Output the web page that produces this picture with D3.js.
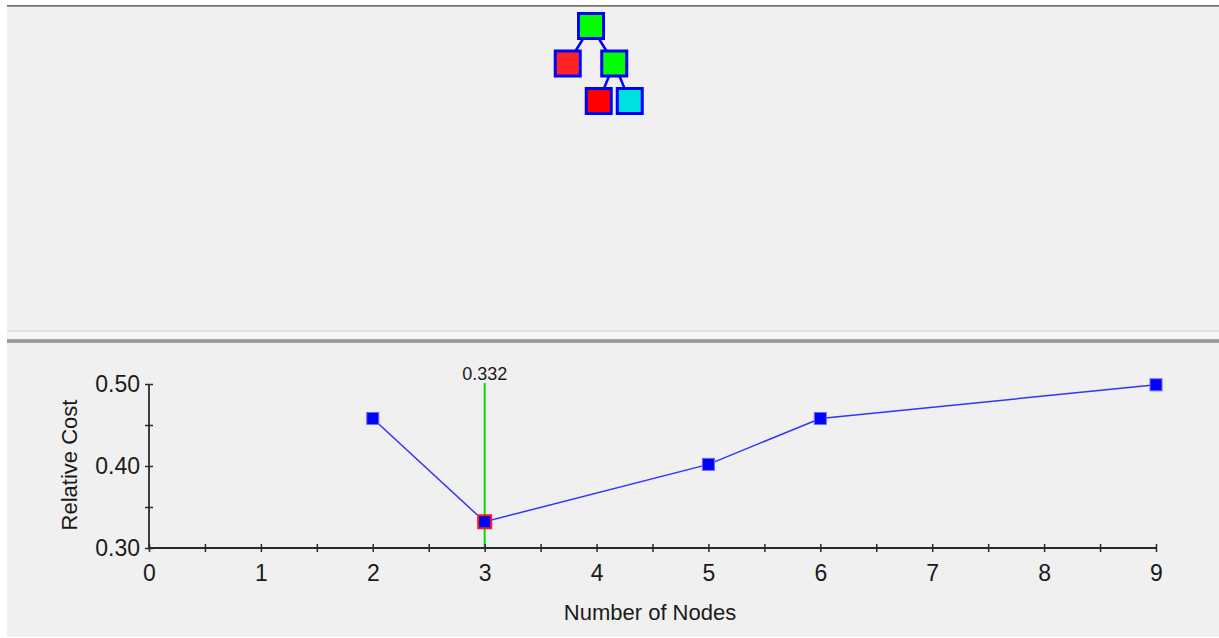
<!DOCTYPE html>
<html>
<head>
<meta charset="utf-8">
<script src="https://cdn.jsdelivr.net/npm/d3@7/dist/d3.min.js"></script>
<style>
  html, body { margin: 0; padding: 0; background: #ffffff; overflow: hidden; }
  svg { display: block; }
  text { font-family: "Liberation Sans", Arial, sans-serif; fill: #1a1a1a; }
</style>
</head>
<body>
<svg id="chart" width="1219" height="638"></svg>
<script>
// ---------- data ----------
const nodeCounts   = [2, 3, 5, 6, 9];
const relativeCost = [0.458, 0.332, 0.402, 0.458, 0.499];
const xTickValues  = [0, 1, 2, 3, 4, 5, 6, 7, 8, 9];
const xMinorTicks  = [0.5, 1.5, 2.5, 3.5, 4.5, 5.5, 6.5, 7.5, 8.5];
const yTickValues  = [0.30, 0.40, 0.50];
const yMinorTicks  = [0.35, 0.45];
const selectedNodes = 3;
const selectedLabel = "0.332";
const xTitle = "Number of Nodes";
const yTitle = "Relative Cost";

// tree shown in the upper pane
const treeIds     = ["n1", "n2", "n3", "n4", "n5"];
const treeParents = ["",   "n1", "n1", "n3", "n3"];
const treeKinds   = ["split", "leafRed", "split", "leafRed2", "leafCyan"];
const kindColors  = { split: "#00ff00", leafRed: "#ff2424", leafRed2: "#ff0000", leafCyan: "#00e0e0" };

// ---------- drawing ----------
const svg = d3.select("#chart");

// panel background
svg.append("rect").attr("x", 7).attr("y", 5).attr("width", 1212).attr("height", 632).attr("fill", "#f0f0f0");
svg.append("rect").attr("x", 7).attr("y", 5).attr("width", 1212).attr("height", 1).attr("fill", "#6e6e6e");
svg.append("rect").attr("x", 7).attr("y", 6).attr("width", 1212).attr("height", 1).attr("fill", "#9a9a9a");
// splitter
svg.append("rect").attr("x", 7).attr("y", 330).attr("width", 1212).attr("height", 2).attr("fill", "#e3e3e3");
svg.append("rect").attr("x", 7).attr("y", 332).attr("width", 1212).attr("height", 7).attr("fill", "#f6f6f6");
svg.append("rect").attr("x", 7).attr("y", 339).attr("width", 1212).attr("height", 4).attr("fill", "#a6a6a6");
svg.append("rect").attr("x", 7).attr("y", 340).attr("width", 1212).attr("height", 2).attr("fill", "#989898");

// ---- tree ----
const treeData = treeIds.map((id, i) => ({ id, parent: treeParents[i], kind: treeKinds[i] }));
const root = d3.stratify().id(d => d.id).parentId(d => d.parent || null)(treeData);
d3.tree().nodeSize([31, 37.5]).separation(a => (a.depth === 1 ? 1.5 : 1))(root);
const tg = svg.append("g").attr("transform", "translate(591,26)");
tg.selectAll("line.link").data(root.links()).join("line")
  .attr("class", "link")
  .attr("x1", d => d.source.x).attr("y1", d => d.source.y)
  .attr("x2", d => d.target.x).attr("y2", d => d.target.y)
  .attr("stroke", "#0000ff").attr("stroke-width", 2.5);
const box = 25;
tg.selectAll("rect.node").data(root.descendants()).join("rect")
  .attr("class", "node")
  .attr("x", d => d.x - box / 2).attr("y", d => d.y - box / 2)
  .attr("width", box).attr("height", box)
  .attr("fill", d => kindColors[d.data.kind])
  .attr("stroke", "#0000ff").attr("stroke-width", 3);

// ---- chart ----
const x = d3.scaleLinear().domain([0, 9]).range([149, 1156]);
const y = d3.scaleLinear().domain([0.30, 0.50]).range([548, 384]);
const axisColor = "#2a2a2a";

// green selection marker
svg.append("line")
  .attr("x1", x(selectedNodes)).attr("x2", x(selectedNodes))
  .attr("y1", y(0.50) - 1).attr("y2", y(0.30))
  .attr("stroke", "#00e000").attr("stroke-width", 2);
svg.append("text")
  .attr("x", x(selectedNodes)).attr("y", y(0.50) - 4)
  .attr("text-anchor", "middle").attr("font-size", 18)
  .text(selectedLabel);

// x axis
const gx = svg.append("g").attr("transform", `translate(0,${y(0.30)})`)
  .call(d3.axisBottom(x).tickValues(xTickValues).tickFormat(d3.format("d")).tickSize(4).tickPadding(13));
const gxm = svg.append("g").attr("transform", `translate(0,${y(0.30)})`)
  .call(d3.axisBottom(x).tickValues(xMinorTicks).tickFormat("").tickSize(4));
[gx, gxm].forEach(g => {
  g.select(".domain").remove();
  g.selectAll(".tick line").attr("y1", -4).attr("y2", 4).attr("stroke", axisColor).attr("stroke-width", 1.5);
});
gx.selectAll(".tick text").attr("font-size", 23).attr("fill", "#1a1a1a")
  .attr("font-family", "'Liberation Sans', Arial, sans-serif");

// y axis
const gy = svg.append("g").attr("transform", `translate(${x(0)},0)`)
  .call(d3.axisLeft(y).tickValues(yTickValues).tickFormat(d3.format(".2f")).tickSize(4).tickPadding(5));
const gym = svg.append("g").attr("transform", `translate(${x(0)},0)`)
  .call(d3.axisLeft(y).tickValues(yMinorTicks).tickFormat("").tickSize(4));
[gy, gym].forEach(g => {
  g.select(".domain").remove();
  g.selectAll(".tick line").attr("x1", -4).attr("x2", 4).attr("stroke", axisColor).attr("stroke-width", 1.5);
});
gy.selectAll(".tick text").attr("font-size", 23).attr("fill", "#1a1a1a")
  .attr("font-family", "'Liberation Sans', Arial, sans-serif");

// axis lines
svg.append("line").attr("x1", x(0)).attr("x2", x(9)).attr("y1", y(0.30)).attr("y2", y(0.30))
  .attr("stroke", axisColor).attr("stroke-width", 1.8);
svg.append("line").attr("x1", x(0)).attr("x2", x(0)).attr("y1", y(0.50)).attr("y2", y(0.30))
  .attr("stroke", axisColor).attr("stroke-width", 1.8);

// titles
svg.append("text").attr("x", 650).attr("y", 620).attr("text-anchor", "middle")
  .attr("font-size", 22).text(xTitle);
svg.append("text").attr("transform", `translate(77,${y(0.40) - 1}) rotate(-90)`)
  .attr("text-anchor", "middle").attr("font-size", 22).text(yTitle);

// series line
const pts = nodeCounts.map((n, i) => ({ n, v: relativeCost[i] }));
svg.append("path").datum(pts)
  .attr("d", d3.line().x(d => x(d.n)).y(d => y(d.v)))
  .attr("fill", "none").attr("stroke", "#3333ff").attr("stroke-width", 1.5);

// markers
svg.selectAll("rect.pt").data(pts).join("rect")
  .attr("class", "pt")
  .attr("x", d => x(d.n) - (d.n === selectedNodes ? 6.5 : 6)).attr("y", d => y(d.v) - (d.n === selectedNodes ? 6.5 : 6))
  .attr("width", d => d.n === selectedNodes ? 13 : 12).attr("height", d => d.n === selectedNodes ? 13 : 12)
  .attr("fill", "#0000ff")
  .attr("stroke", d => d.n === selectedNodes ? "#ff1a1a" : "#6a6aff")
  .attr("stroke-width", d => d.n === selectedNodes ? 2 : 1);
</script>
</body>
</html>
